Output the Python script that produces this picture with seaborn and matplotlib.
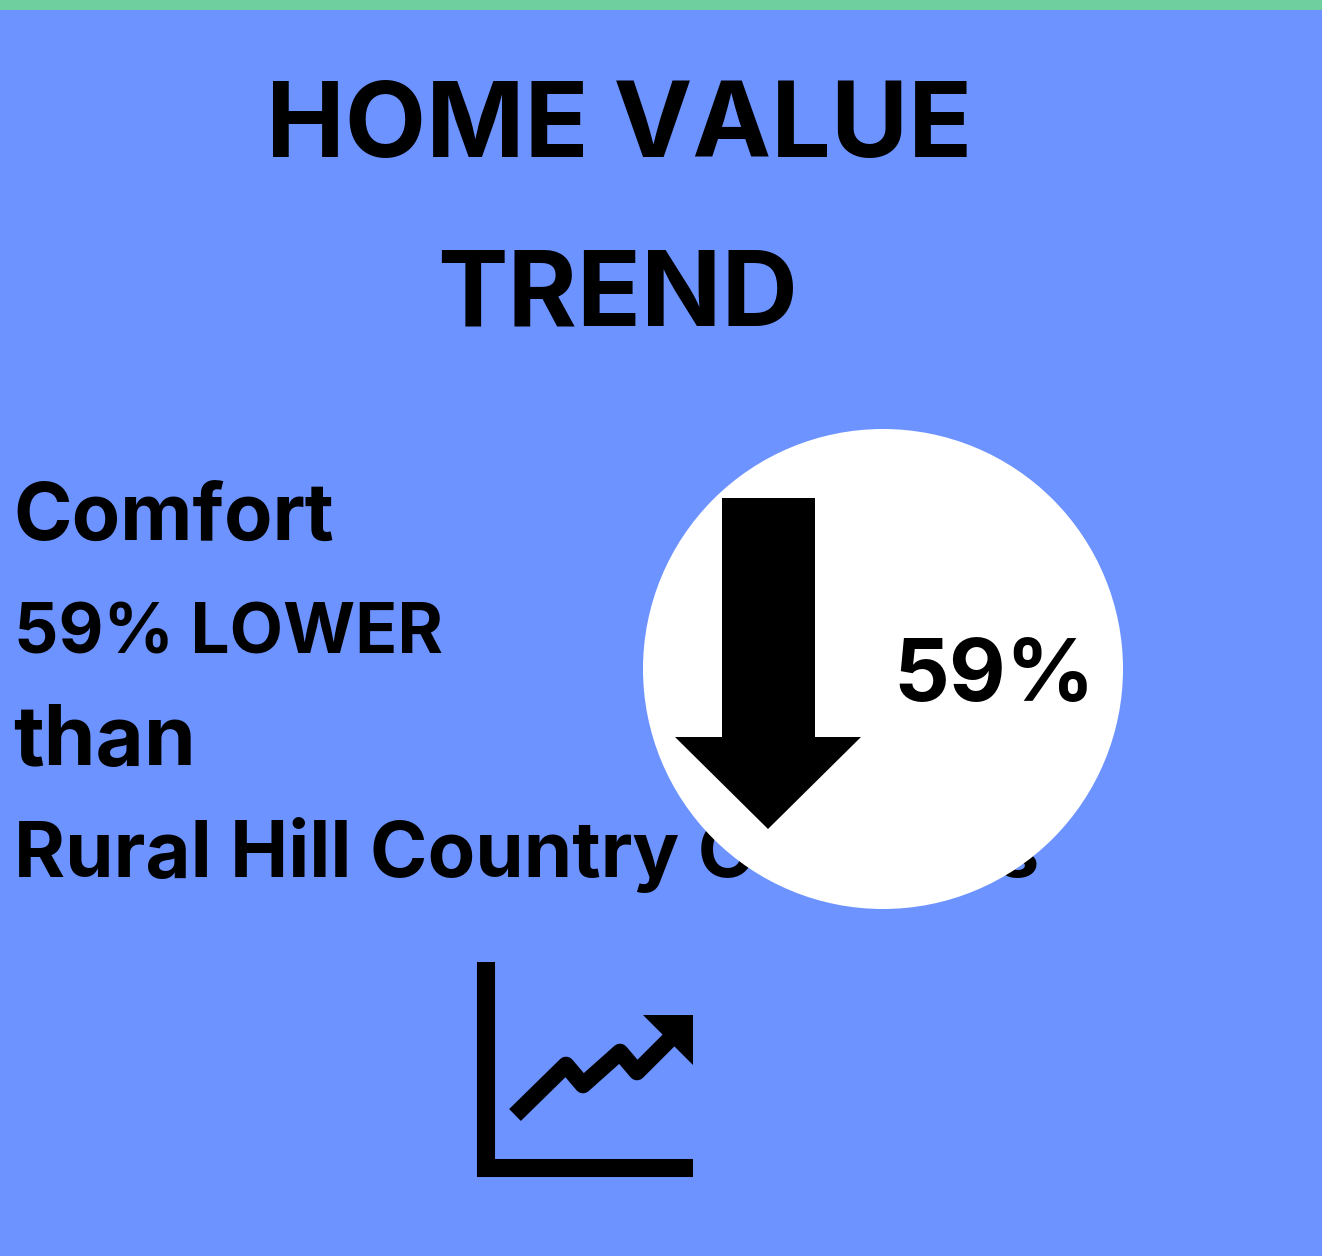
import matplotlib
matplotlib.use("Agg")
import matplotlib.pyplot as plt
from matplotlib.patches import Circle, Polygon, Rectangle
import seaborn as sns

title_lines = ["HOME VALUE", "TREND"]
body_lines = ["Comfort", "59% LOWER", "than", "Rural Hill Country Counties"]
badge_label = "59%"

BG = "#6c93ff"
BAND = "#6fcf9f"

sns.set_theme(style="white")
plt.rcParams["font.family"] = ["Inter", "DejaVu Sans"]

W, H = 1322, 1256
fig = plt.figure(figsize=(W / 100, H / 100), dpi=100, facecolor=BG)
ax = fig.add_axes([0, 0, 1, 1])
ax.set_xlim(0, W)
ax.set_ylim(H, 0)
ax.axis("off")

ax.add_patch(Rectangle((0, 0), W, 10, color=BAND, lw=0, zorder=1))

for txt, y, x in zip(title_lines, [119, 288], [619, 618]):
    ax.text(x, y, txt, fontsize=76, fontweight="bold", color="black",
            ha="center", va="center_baseline", zorder=2)

for txt, y, x, fs in zip(body_lines, [540, 653, 765, 877], [13, 14, 13, 14], [57, 50, 60, 56]):
    ax.text(x, y, txt, fontsize=fs, fontweight="bold", color="black",
            ha="left", va="baseline", zorder=2)

ax.add_patch(Circle((883, 669), 240, color="white", lw=0, zorder=3))
ax.add_patch(Polygon([(722, 498), (815, 498), (815, 737), (861, 737),
                      (768, 829), (675, 737), (722, 737)],
                     closed=True, color="black", lw=0, zorder=4))
ax.text(994, 701, badge_label, fontsize=63, fontweight="bold", color="black",
        ha="center", va="baseline", zorder=4)

ax.plot([486, 486, 693], [962, 1168, 1168], color="black", lw=13,
        solid_joinstyle="miter", solid_capstyle="butt", zorder=2)
ax.plot([515, 566, 583, 620, 637, 675], [1115, 1065, 1085, 1052, 1072, 1034],
        color="black", lw=12, solid_joinstyle="round", solid_capstyle="butt", zorder=2)
ax.add_patch(Polygon([(643, 1015), (693, 1015), (693, 1065)], closed=True,
                     color="black", lw=0, zorder=2))

fig.savefig("out.png", dpi=100, facecolor=BG)
